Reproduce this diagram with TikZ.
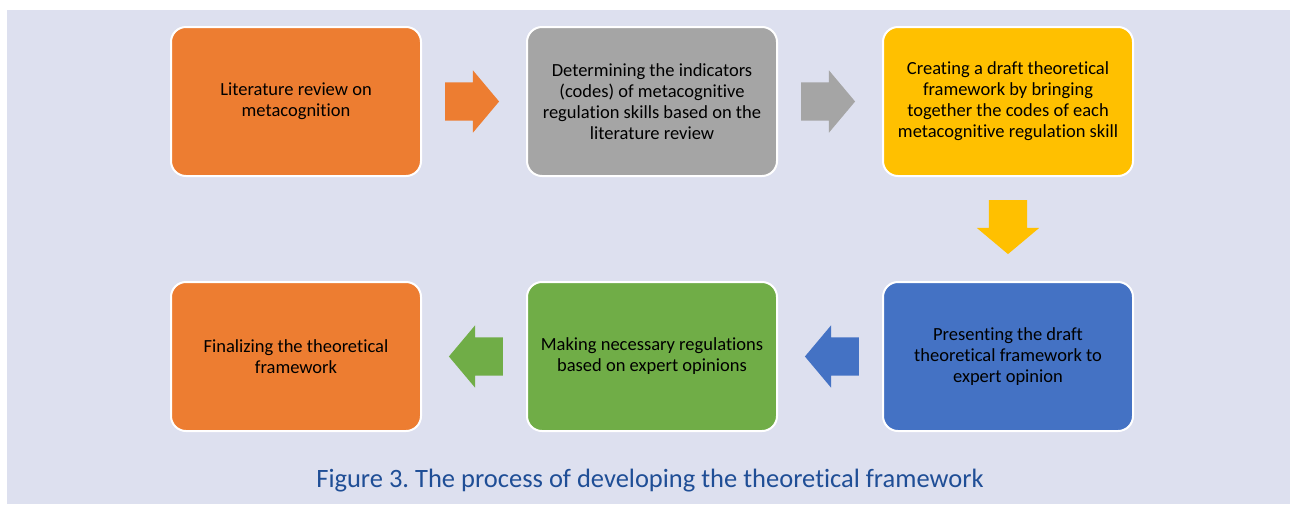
\documentclass[tikz,border=0pt]{standalone}
\usepackage{fontspec}
\setmainfont{Carlito}[Ligatures=NoCommon]
\usetikzlibrary{positioning, shapes.arrows, calc}
\frenchspacing

\definecolor{panelbg}{HTML}{DDE0EF}
\definecolor{orangebox}{HTML}{ED7D31}
\definecolor{graybox}{HTML}{A5A5A5}
\definecolor{yellowbox}{HTML}{FFC000}
\definecolor{bluebox}{HTML}{4472C4}
\definecolor{greenbox}{HTML}{70AD47}
\definecolor{captionblue}{HTML}{1F4E96}

\begin{document}
\begin{tikzpicture}[
  every node/.style={font=\fontsize{18.5}{21}\selectfont, align=center},
  box/.style={draw=white, line width=2pt, rounded corners=15pt, minimum width=250pt, minimum height=149pt, inner sep=3pt, text=black},
  blockarrow/.style={single arrow, draw=none, anchor=tail, inner xsep=0pt, inner ysep=19pt, minimum height=54pt, single arrow head extend=12pt, single arrow tip angle=100},
  node distance=104pt
]

% Background
\useasboundingbox (0pt,0pt) rectangle (1290pt,-504pt);
\fill[panelbg] (7pt,-10pt) rectangle (1290pt,-504pt);

% Nodes
\node[box, fill=orangebox] (litrev) at (296pt,-101.5pt) {Literature review on\\ metacognition};
\node[box, fill=graybox, right=of litrev] (indicators) {Determining the indicators\\ (codes) of metacognitive\\ regulation skills based on the\\ literature review};
\node[box, fill=yellowbox, right=of indicators] (draft) {Creating a draft theoretical\\ framework by bringing\\ together the codes of each\\ metacognitive regulation skill};
\node[box, fill=bluebox, below=of draft] (expert) {Presenting the draft\\ theoretical framework to\\ expert opinion};
\node[box, fill=greenbox, left=of expert] (regulate) {Making necessary regulations\\ based on expert opinions};
\node[box, fill=orangebox, left=of regulate] (final) {Finalizing the theoretical\\ framework};

% Arrows
\node[blockarrow, fill=orangebox] (arr1) at ($(litrev.east)!0.22!(indicators.west)$) {};
\node[blockarrow, fill=graybox] (arr2) at ($(indicators.east)!0.22!(draft.west)$) {};
\node[blockarrow, fill=yellowbox, rotate=-90] (arr3) at ($(draft.south)!0.22!(expert.north)$) {};
\node[blockarrow, fill=bluebox, rotate=180] (arr4) at ($(expert.west)!0.22!(regulate.east)$) {};
\node[blockarrow, fill=greenbox, rotate=180] (arr5) at ($(regulate.west)!0.22!(final.east)$) {};

% Caption
\node[font=\fontsize{26.5}{30}\selectfont, text=captionblue] (caption) at (650pt,-481pt) {Figure 3. The process of developing the theoretical framework};

\end{tikzpicture}
\end{document}
